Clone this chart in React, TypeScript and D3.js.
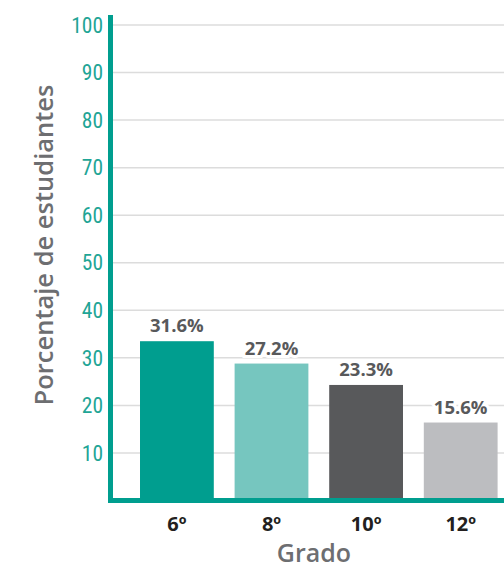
import React from "react";
import * as d3 from "d3";

const categories = ["6º", "8º", "10º", "12º"];
const barHeights = [33.5, 28.8, 24.3, 16.4];
const valueLabels = ["31.6%", "27.2%", "23.3%", "15.6%"];
const barColors = ["#009e8f", "#76c6bf", "#58595b", "#bcbdc0"];
const yTicks = [10, 20, 30, 40, 50, 60, 70, 80, 90, 100];

const W = 504;
const H = 569;
const axisX = 110.5;
const axisY = 500.5;

export default function App() {
  const y = d3.scaleLinear().domain([0, 100]).range([axisY, 25]);
  const x = d3.scaleBand<string>().domain(categories).range([129.6, 508]).paddingInner(0.22).paddingOuter(0.11);

  return (
    <svg width={W} height={H} style={{ position: "absolute", left: 0, top: 0 }} fontFamily="'Open Sans', sans-serif">
      <rect width={W} height={H} fill="#fff" />
      {yTicks.map((t) => (
        <line key={"g" + t} x1={axisX + 2} x2={W} y1={y(t)} y2={y(t)} stroke="#dcdcdc" strokeWidth={1.5} />
      ))}
      {yTicks.map((t) => (
        <text
          key={"t" + t}
          x={103}
          y={y(t)}
          dy="0.36em"
          textAnchor="end"
          fontSize={21.5}
          fill="#1fa596"
          fontFamily="'Liberation Sans Narrow', 'Roboto Condensed', Roboto, sans-serif"
        >
          {t}
        </text>
      ))}
      {categories.map((c, i) => (
        <rect key={"b" + c} x={x(c)} width={x.bandwidth()} y={y(barHeights[i])} height={axisY - y(barHeights[i])} fill={barColors[i]} />
      ))}
      {categories.map((c, i) => (
        <text
          key={"v" + c}
          x={(x(c) ?? 0) + x.bandwidth() / 2}
          y={y(barHeights[i]) - 9}
          textAnchor="middle"
          fontSize={18.5}
          fontWeight={700}
          fill="#58595b"
          stroke="#fff"
          strokeWidth={6}
          paintOrder="stroke"
        >
          {valueLabels[i]}
        </text>
      ))}
      <line x1={axisX} x2={axisX} y1={15} y2={axisY + 2.5} stroke="#009e8f" strokeWidth={5} />
      <line x1={axisX - 2.5} x2={W} y1={axisY} y2={axisY} stroke="#009e8f" strokeWidth={5} />
      {categories.map((c) => (
        <text key={"c" + c} x={(x(c) ?? 0) + x.bandwidth() / 2} y={531} textAnchor="middle" fontSize={20} fontWeight={700} fill="#231f20">
          {c}
        </text>
      ))}
      <text x={314} y={562} textAnchor="middle" fontSize={25} fontWeight={600} fill="#6d6e71">
        Grado
      </text>
      <text transform={`translate(53,245) rotate(-90)`} textAnchor="middle" fontSize={25.5} fontWeight={600} fill="#6d6e71">
        Porcentaje de estudiantes
      </text>
    </svg>
  );
}
